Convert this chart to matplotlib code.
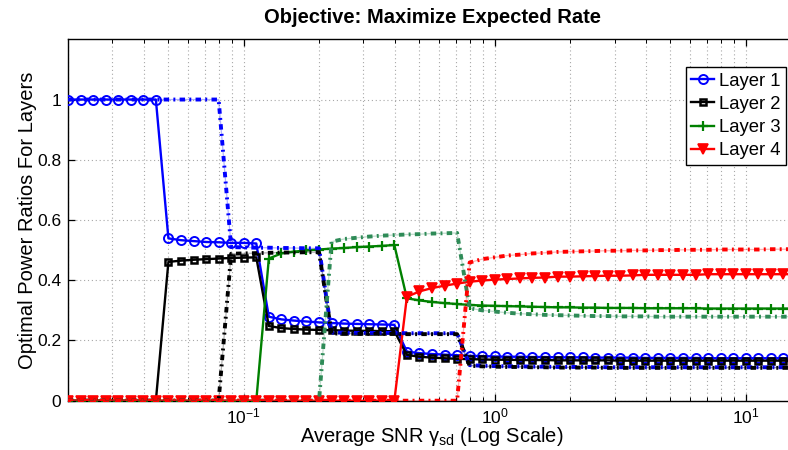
import numpy as np
import matplotlib
matplotlib.use('Agg')
import matplotlib.pyplot as plt

# ---------------- data ----------------
snr_db = [-17.0, -16.5, -16.0, -15.5, -15.0, -14.5, -14.0, -13.5, -13.0, -12.5,
          -12.0, -11.5, -11.0, -10.5, -10.0, -9.5, -9.0, -8.5, -8.0, -7.5,
          -7.0, -6.5, -6.0, -5.5, -5.0, -4.5, -4.0, -3.5, -3.0, -2.5,
          -2.0, -1.5, -1.0, -0.5, 0.0, 0.5, 1.0, 1.5, 2.0, 2.5,
          3.0, 3.5, 4.0, 4.5, 5.0, 5.5, 6.0, 6.5, 7.0, 7.5,
          8.0, 8.5, 9.0, 9.5, 10.0, 10.5, 11.0, 11.5, 12.0]

layer1 = ([1.0] * 8 +
          [0.539, 0.533, 0.530, 0.527, 0.526, 0.524, 0.524, 0.522] +
          [0.279, 0.270, 0.266, 0.263, 0.260, 0.258, 0.256, 0.255, 0.254, 0.253, 0.252] +
          [0.163, 0.158, 0.155, 0.153, 0.151, 0.149, 0.148, 0.147] +
          [0.146, 0.146, 0.145, 0.145, 0.144, 0.144, 0.144, 0.143, 0.143, 0.143, 0.143, 0.142,
           0.142, 0.142, 0.142, 0.142, 0.141, 0.141, 0.141, 0.141, 0.141, 0.141, 0.141, 0.141])

layer2 = ([0.0] * 8 +
          [0.461, 0.465, 0.468, 0.470, 0.472, 0.474, 0.475, 0.476] +
          [0.248, 0.241, 0.238, 0.236, 0.235, 0.234, 0.233, 0.232, 0.232, 0.231, 0.231] +
          [0.152, 0.146, 0.143, 0.141, 0.139, 0.138, 0.137, 0.136] +
          [0.136, 0.135, 0.135, 0.135, 0.134, 0.134, 0.134, 0.134, 0.134] + [0.133] * 15)

layer3 = ([0.0] * 16 +
          [0.472, 0.489, 0.495, 0.499, 0.502, 0.505, 0.507, 0.510, 0.512, 0.514, 0.517] +
          [0.340, 0.333, 0.328, 0.324, 0.321, 0.318, 0.316, 0.315] +
          [0.314, 0.313, 0.312, 0.311, 0.310, 0.310, 0.309, 0.309, 0.308, 0.308, 0.308, 0.307,
           0.307, 0.307, 0.307, 0.307] + [0.306] * 8)

layer4 = ([0.0] * 27 +
          [0.345, 0.363, 0.374, 0.382, 0.389, 0.395, 0.399, 0.402] +
          [0.404, 0.406, 0.408, 0.409, 0.412, 0.412, 0.413, 0.414, 0.415, 0.415, 0.416, 0.418,
           0.418, 0.418, 0.418, 0.418, 0.420, 0.420, 0.420, 0.420, 0.420, 0.420, 0.420, 0.420])

# dash-dot (second scheme) curves
layer1_alt = ([1.0] * 13 +
              [0.510, 0.509, 0.508, 0.508, 0.507, 0.507, 0.506, 0.506] +
              [0.226, 0.226, 0.225, 0.225, 0.225, 0.225, 0.224, 0.224, 0.224, 0.224, 0.224] +
              [0.118, 0.116, 0.115, 0.114, 0.114, 0.113, 0.113, 0.112, 0.112, 0.112, 0.112] +
              [0.111] * 16)

layer2_alt = ([0.0] * 13 +
              [0.488, 0.489, 0.490, 0.491, 0.492, 0.492, 0.493, 0.493] +
              [0.223, 0.223, 0.222, 0.222, 0.222, 0.222, 0.221, 0.221, 0.221, 0.221, 0.221] +
              [0.116, 0.114, 0.113, 0.112, 0.112, 0.111, 0.111, 0.110, 0.110, 0.110, 0.110] +
              [0.109] * 16)

layer3_alt = ([0.0] * 21 +
              [0.528, 0.537, 0.541, 0.545, 0.548, 0.550, 0.552, 0.553, 0.555, 0.556, 0.557] +
              [0.307, 0.300, 0.296, 0.292, 0.289, 0.287, 0.285, 0.284, 0.283, 0.282, 0.281,
               0.281, 0.280, 0.280, 0.280] + [0.279] * 12)

layer4_alt = ([0.0] * 32 +
              [0.459, 0.470, 0.476, 0.482, 0.485, 0.489, 0.491, 0.494, 0.495, 0.496,
               0.497, 0.498, 0.498, 0.499, 0.499, 0.500, 0.500, 0.501, 0.501, 0.501,
               0.502, 0.502, 0.502, 0.502, 0.503, 0.503, 0.503])

labels = ['Layer 1', 'Layer 2', 'Layer 3', 'Layer 4']
yticks = [0, 0.2, 0.4, 0.6, 0.8, 1.0]
yticklabels = ['0', '0.2', '0.4', '0.6', '0.8', '1']

# ---------------- style ----------------
plt.rcParams['font.family'] = ['Liberation Sans', 'DejaVu Sans']
plt.rcParams['mathtext.fontset'] = 'custom'
plt.rcParams['mathtext.rm'] = 'Liberation Sans'
plt.rcParams['mathtext.it'] = 'Liberation Sans:italic'
plt.rcParams['mathtext.default'] = 'regular'

x = 10 ** (np.array(snr_db) / 10.0)

fig = plt.figure(figsize=(7.88, 4.5), dpi=100)
ax = fig.add_axes([68 / 788, 1 - 400.7 / 450, 728 / 788, 361.4 / 450])

solid_colors = ['#0000ff', '#000000', '#008000', '#ff0000']
alt_colors = ['#0000ff', '#000000', '#2e8b57', '#ff0000']
markers = ['o', 's', '+', 'v']
msizes = [6.5, 5.0, 7.0, 7.5]
mfcs = ['none', 'none', '#008000', '#ff0000']
mews = [1.4, 1.8, 1.6, 1.2]

handles = []
for ys, c, m, ms, mfc, mew, lab in zip([layer1, layer2, layer3, layer4], solid_colors,
                                       markers, msizes, mfcs, mews, labels):
    h, = ax.plot(x, ys, '-', color=c, lw=1.7, marker=m, ms=ms, mfc=mfc, mec=c,
                 mew=mew, label=lab, zorder=3)
    handles.append(h)

for ys, c in zip([layer1_alt, layer2_alt, layer3_alt, layer4_alt], alt_colors):
    ax.plot(x, ys, '-', color=c, lw=0.9, alpha=0.3, zorder=4)
    ax.plot(x, ys, color=c, lw=2.8, linestyle=(0, (1.4, 1.1, 0.5, 1.1)),
            dash_capstyle='butt', zorder=4)

ax.set_xscale('log')
ax.set_xlim(10 ** -1.7, 10 ** 1.2)
ax.set_ylim(0, 1.2)
ax.set_yticks(yticks)
ax.set_yticklabels(yticklabels)

grid_kw = dict(linestyle=(0, (1, 2.5)), color='#a8a8a8', lw=0.8)
ax.grid(True, which='both', axis='x', **grid_kw)
ax.grid(True, which='major', axis='y', **grid_kw)
ax.set_axisbelow(True)

ax.tick_params(which='both', direction='in', top=True, right=True, labelsize=12.5,
               color='black')
ax.tick_params(which='major', length=5, width=0.9)
ax.tick_params(which='minor', length=3, width=0.7)
ax.tick_params(axis='y', pad=5)
ax.tick_params(axis='x', pad=4)
for s in ax.spines.values():
    s.set_linewidth(1.0)
    s.set_color('black')

ax.set_title('Objective: Maximize Expected Rate', fontsize=14.5, fontweight='bold',
             family=['Liberation Sans Narrow', 'Liberation Sans'], pad=12)
ax.set_ylabel('Optimal Power Ratios For Layers', fontsize=14.5, labelpad=0)
ax.set_xlabel(r'Average SNR γ$_{\mathregular{sd}}$ (Log Scale)', fontsize=14.5, labelpad=-1)

leg = ax.legend(handles=handles, loc='upper right', bbox_to_anchor=(786 / 788, 1 - 67 / 450),
                bbox_transform=fig.transFigure, borderaxespad=0, fancybox=False,
                edgecolor='black', framealpha=1, fontsize=13.3, handlelength=1.25,
                handletextpad=0.25, labelspacing=0.34, borderpad=0.3)
leg.get_frame().set_linewidth(1.0)
leg.set_zorder(10)

fig.savefig('out.png', dpi=100)
